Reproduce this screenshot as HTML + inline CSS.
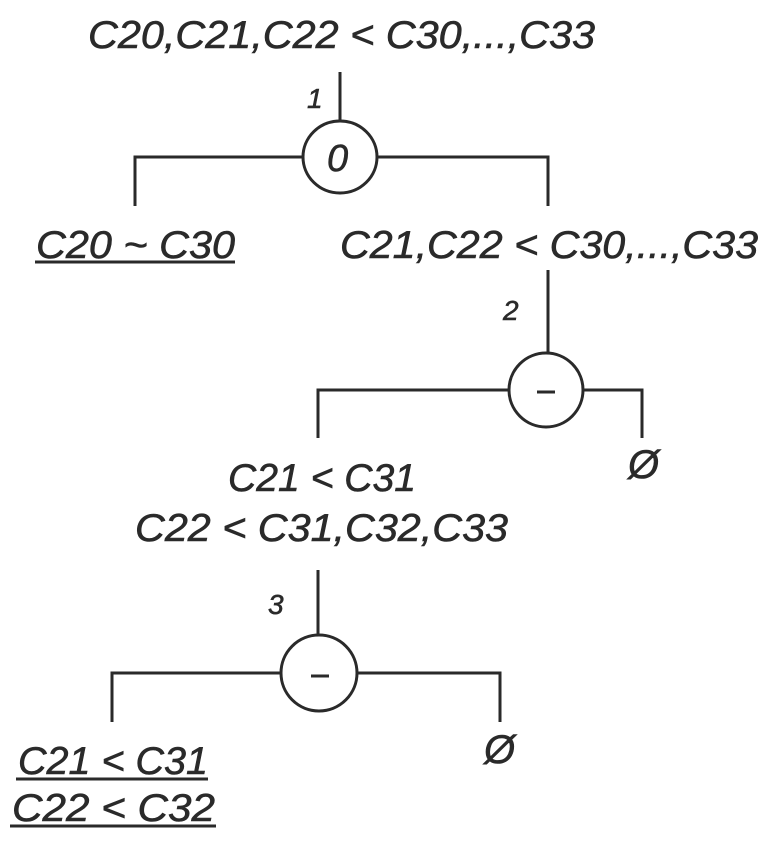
<!DOCTYPE html>
<html><head><meta charset="utf-8"><style>
html,body{margin:0;padding:0;background:#fff;}
svg{display:block;}
text{font-family:"Liberation Sans",sans-serif;font-style:italic;fill:#2a2a2a;stroke:#2a2a2a;stroke-width:0.6;}
</style></head><body>
<svg width="772" height="858" viewBox="0 0 772 858" xmlns="http://www.w3.org/2000/svg">
<g stroke="#2a2a2a" stroke-width="3" fill="none">
<line x1="340" y1="72" x2="340" y2="121"/>
<ellipse cx="340" cy="157" rx="37" ry="36" fill="#fff"/>
<polyline points="303,157 135,157 135,206"/>
<polyline points="377,157 548,157 548,206"/>
<line x1="548" y1="270" x2="548" y2="353"/>
<ellipse cx="546" cy="390" rx="37" ry="37" fill="#fff"/>
<polyline points="509,390 318,390 318,438"/>
<polyline points="583,390 642,390 642,438"/>
<line x1="318" y1="570" x2="318" y2="636"/>
<ellipse cx="319" cy="673" rx="38" ry="38"/>
<polyline points="281,673 112,673 112,722"/>
<polyline points="357,673 500,673 500,722"/>
<line x1="537" y1="392" x2="555" y2="392"/>
<line x1="311" y1="676" x2="329" y2="676"/>
<line x1="35" y1="262" x2="235" y2="262"/>
<line x1="16" y1="779" x2="208" y2="779"/>
<line x1="10" y1="826" x2="216" y2="826"/>
</g>
<text x="88" y="48" font-size="39" textLength="507" lengthAdjust="spacingAndGlyphs">C20,C21,C22 &lt; C30,...,C33</text>
<text x="307" y="108" font-size="28">1</text>
<text x="327" y="171" font-size="38">0</text>
<text x="36" y="258" font-size="39" textLength="199" lengthAdjust="spacingAndGlyphs">C20 ~ C30</text>
<text x="340" y="258" font-size="39" textLength="418" lengthAdjust="spacingAndGlyphs">C21,C22 &lt; C30,...,C33</text>
<text x="503" y="320" font-size="28">2</text>
<text x="628" y="478" font-size="40">Ø</text>
<text x="228" y="491" font-size="39" textLength="188" lengthAdjust="spacingAndGlyphs">C21 &lt; C31</text>
<text x="135" y="541" font-size="39" textLength="373" lengthAdjust="spacingAndGlyphs">C22 &lt; C31,C32,C33</text>
<text x="268" y="614" font-size="28">3</text>
<text x="484" y="763" font-size="40">Ø</text>
<text x="18" y="774" font-size="39" textLength="190" lengthAdjust="spacingAndGlyphs">C21 &lt; C31</text>
<text x="12" y="821" font-size="39" textLength="203" lengthAdjust="spacingAndGlyphs">C22 &lt; C32</text>
</svg>
</body></html>
